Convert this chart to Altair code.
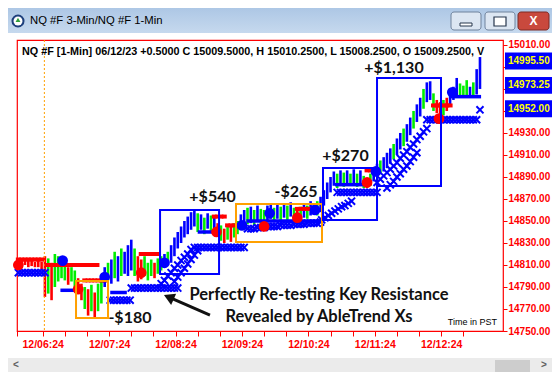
import altair as alt
import pandas as pd

# ---------------- data (minutes after 06:00 PST, prices) ----------------
T = list(range(2, 420, 3))
LO = [14806, 14807, 14810, 14808, 14809, 14808, 14808, 14806, 14781, 14784,
      14778, 14790, 14795, 14798, 14796, 14792, 14795, 14790, 14785, 14778,
      14770, 14764, 14768, 14762, 14768, 14775, 14790, 14796, 14793, 14798,
      14795, 14800, 14802, 14800, 14805, 14800, 14795, 14797, 14800, 14796,
      14800, 14798, 14802, 14805, 14808, 14810, 14812, 14818, 14825, 14830,
      14835, 14838, 14842, 14845, 14840, 14842, 14838, 14843, 14841, 14840,
      14836, 14832, 14830, 14833, 14831, 14835, 14838, 14842, 14845, 14847,
      14848, 14846, 14849, 14847, 14846, 14850, 14852, 14850, 14852, 14850,
      14853, 14851, 14854, 14850, 14849, 14851, 14853, 14852, 14855, 14856,
      14855, 14858, 14864, 14870, 14876, 14882, 14880, 14882, 14881, 14884,
      14882, 14884, 14881, 14883, 14880, 14880, 14882, 14886, 14890, 14893,
      14895, 14898, 14902, 14906, 14910, 14915, 14918, 14922, 14928, 14934,
      14940, 14945, 14952, 14958, 14960, 14950, 14948, 14944, 14946, 14950,
      14956, 14960, 14962, 14962, 14963, 14962, 14963, 14962, 14965, 14970]
HI = [14812, 14815, 14816, 14815, 14814, 14813, 14814, 14813, 14818, 14816,
      14812, 14820, 14818, 14816, 14812, 14808, 14808, 14805, 14798, 14793,
      14790, 14788, 14792, 14785, 14793, 14800, 14808, 14812, 14815, 14822,
      14818, 14825, 14822, 14828, 14833, 14825, 14818, 14815, 14818, 14812,
      14815, 14812, 14816, 14818, 14820, 14822, 14828, 14835, 14840, 14845,
      14850, 14854, 14858, 14860, 14857, 14856, 14853, 14857, 14855, 14854,
      14848, 14846, 14843, 14847, 14845, 14848, 14850, 14856, 14860, 14862,
      14863, 14860, 14864, 14861, 14860, 14864, 14866, 14862, 14866, 14863,
      14866, 14864, 14867, 14862, 14860, 14863, 14866, 14864, 14868, 14866,
      14868, 14872, 14878, 14885, 14890, 14895, 14893, 14896, 14894, 14896,
      14893, 14897, 14893, 14896, 14891, 14889, 14893, 14897, 14902, 14905,
      14908, 14912, 14916, 14920, 14925, 14930, 14934, 14938, 14944, 14950,
      14956, 14962, 14970, 14976, 14977, 14966, 14960, 14958, 14960, 14962,
      14970, 14972, 14980, 14975, 14973, 14978, 14972, 14976, 14988, 14999]
CLR = list("rrrrrrrrrg" "rggggrggrr" "grgrggbgbg" "bgbbbgrrgg" "grggbgbbbb"
           "bbbbgbgbgb" "rgrgrggbbg" "bgbggbbgbg" "bgbgrgbgbb" "gbbbbbgbgb"
           "gbgbgrgbbg" "bbbgbbgbbg" "bbgbbgrrgr" "bbbgggbgbb")

# blue X trailing-stop markers
X_T = ([2, 5, 8, 11, 14, 17, 20, 23, 26]
       + [85, 88, 91, 94, 97, 100, 103]
       + [104, 107, 110, 113, 116, 119, 122, 125, 128, 131, 134, 137, 140, 143, 146]
       + [131, 134, 137, 140, 143, 146, 149, 152, 155, 158]
       + [143, 146, 149, 152, 155, 158, 161, 164]
       + [161, 164, 167, 170, 173, 176, 179, 182, 185, 188, 191, 194, 197, 200, 203, 206]
       + [209, 212, 215, 218, 221, 224, 227, 230, 233, 236, 239, 242, 245, 248, 251,
          254, 257, 260, 263, 266, 269, 272, 275]
       + [276, 279, 282, 285, 288, 291, 294, 297, 300, 303]
       + [290, 293, 296, 299, 302, 305, 308, 311, 314, 317, 320, 323, 326]
       + [326, 329, 332, 335, 338, 341, 344, 347, 350, 353, 356, 359, 362, 365, 368, 371]
       + [335, 338, 341, 344, 347, 350, 353, 356, 359, 362]
       + [371, 374, 377, 380, 383, 386, 389, 392, 395, 398, 401, 404, 407, 410, 413, 416]
       + [419])
X_P = ([14803] * 9
       + [14778] * 7
       + [14789] * 15
       + [14793, 14796, 14800, 14803, 14807, 14810, 14814, 14817, 14820, 14824]
       + [14795, 14799, 14803, 14807, 14811, 14815, 14819, 14823]
       + [14826] * 16
       + [14843, 14843, 14843, 14844, 14844, 14844, 14845, 14845, 14845, 14845, 14846,
          14846, 14846, 14846, 14847, 14847, 14847, 14847, 14848, 14848, 14848, 14848, 14849]
       + [14851, 14853, 14855, 14857, 14859, 14861, 14863, 14864, 14866, 14868]
       + [14876] * 13
       + [14885, 14888, 14891, 14894, 14897, 14900, 14903, 14907, 14910, 14913,
          14917, 14920, 14924, 14927, 14931, 14934]
       + [14880, 14883, 14886, 14890, 14893, 14897, 14900, 14904, 14908, 14912]
       + [14942] * 16
       + [14951])

# red stop dashes
RD_T = ([2, 5, 8, 11, 14, 17, 20, 23]
        + [28, 31, 34, 37, 40, 43, 46, 49, 52, 55, 58, 61, 64, 67, 70, 73]
        + [62, 65, 68, 71, 74, 77, 80]
        + [113, 116, 119, 122, 125, 128]
        + [179, 182, 185, 188] + [191, 194, 197, 200]
        + [254, 257, 260, 263, 266]
        + [317, 320, 323, 326]
        + [377, 380, 383, 386, 389, 392])
RD_P = ([14815] * 8 + [14810] * 16 + [14796] * 7 + [14820] * 6
        + [14854] * 4 + [14846] * 4 + [14861] * 5 + [14896] * 4 + [14955] * 6)

# blue stop lines
LN_T1 = [40, 85, 164, 208, 288, 392]
LN_T2 = [53, 100, 183, 276, 315, 420]
LN_P = [14787, 14785, 14840, 14850, 14883, 14963]

# signal dots
RDOT_T = [2, 56, 113, 181, 224, 254, 317, 382]
RDOT_P = [14810, 14788, 14803, 14840, 14845, 14853, 14885, 14943]
BDOT_T = [42, 80, 134, 204, 229, 270, 325, 394]
BDOT_P = [14814, 14799, 14812, 14846, 14857, 14860, 14895, 14967]

# trade boxes
BOX_KIND = ["o", "b", "o", "b", "b"]
BOX_T1 = [54.1, 130.0, 198.6, 277.2, 326.0]
BOX_T2 = [83.0, 183.3, 276.3, 326.0, 383.8]
BOX_LO = [14761.8, 14801.8, 14830.9, 14850.9, 14881.8]
BOX_HI = [14795.5, 14860.0, 14865.5, 14898.2, 14980.0]

PL_TEXT = ["-$180", "+$540", "-$265", "+$270", "+$1,130"]
PL_T = [102.8, 177.4, 252.8, 297.5, 341.3]
PL_P = [14761.8, 14871.8, 14876.4, 14909.1, 14989.1]

NOTE_TEXT = ["Perfectly Re-testing Key Resistance", "Revealed by AbleTrend Xs"]
NOTE_T = [273.6, 273.6]
NOTE_P = [14782.7, 14762.3]

ARROW_T = [175.1]
ARROW_T2 = [137.9]
ARROW_P = [14764.5]
ARROW_P2 = [14780.7]

HL_P = [14995.5, 14973.25, 14952.0]
HL_TEXT = ["14995.50", "14973.25", "14952.00"]
HIDDEN_TICK_LABELS = [14990, 14970, 14950]

OPEN_T = [25.5]
PRICE_TICKS = list(range(14750, 15011, 20))
TIME_TICKS = [0.78] + list(range(24, 405, 20))

HEADER = ("NQ #F [1-Min] 06/12/23  +0.5000 C 15009.5000, H 15010.2500, "
          "L 15008.2500, O 15009.2500, V")

# ---------------- scales / axes ----------------
RED, GREEN, BLUE, ORANGE = "#ff0000", "#00ee00", "#0000ff", "#ffa000"
xs = alt.Scale(domain=[0.78, 439.8], nice=False, zero=False)
ys = alt.Scale(domain=[14750, 15014.5], nice=False, zero=False)
AX = alt.Axis(
    values=TIME_TICKS, title=None, grid=False, domain=False,
    tickColor=RED, tickSize=5, tickWidth=1,
    labelExpr="datum.value % 60 == 24 ? '12/' + (floor(datum.value/60) + 6 < 10 ? '0' : '') + (floor(datum.value/60) + 6) + ':24' : ''",
    labelColor=RED, labelFont="Liberation Sans", labelFontWeight="bold",
    labelFontSize=10.5, labelPadding=3, labelFlush=False, labelOverlap=False)
hidden = ",".join(str(v) for v in HIDDEN_TICK_LABELS)
AY = alt.Axis(
    orient="right", values=PRICE_TICKS, title=None, grid=False,
    labelExpr=f"indexof([{hidden}], datum.value) >= 0 ? '' : format(datum.value, '.2f')",
    domain=False, tickColor=RED, tickSize=4, tickWidth=1,
    labelColor=RED, labelFont="Liberation Sans", labelFontWeight="bold",
    labelFontSize=10, labelPadding=1, labelFlush=False, labelOverlap=False)


def X(f):
    return alt.X(f, scale=xs, axis=AX)


def Y(f):
    return alt.Y(f, scale=ys, axis=AY)


XSHAPE = "M-1,-1L1,1M-1,1L1,-1"
dummy = pd.DataFrame({"d": [0]})


def px_rect(x, x2, y, y2, **kw):
    return alt.Chart(dummy).mark_rect(**kw).encode(
        x=alt.value(x), x2=alt.value(x2), y=alt.value(y), y2=alt.value(y2))


def px_text(x, y, txt, **kw):
    return alt.Chart(dummy).mark_text(**kw).encode(
        x=alt.value(x), y=alt.value(y), text=alt.value(txt))


def px_point(x, y, **kw):
    return alt.Chart(dummy).mark_point(**kw).encode(x=alt.value(x), y=alt.value(y))


# ---------------- window chrome ----------------
grad = alt.LinearGradient(gradient="linear",
                          stops=[alt.GradientStop(color="#adc7e5", offset=0),
                                 alt.GradientStop(color="#c6d9ee", offset=1)],
                          x1=0, x2=0, y1=0, y2=1)
chrome = [
    px_rect(-9, 535, -32, -7, fill=grad),
    px_point(1, -19, shape="circle", filled=True, size=170, color="#1d3f7c", opacity=1),
    px_point(1, -19, shape="circle", filled=True, size=80, color="#ffffff", opacity=1),
    px_point(1, -19.5, shape="triangle", filled=True, size=24, color="#2f9e3a", opacity=1),
    px_text(13, -19, "NQ #F 3-Min/NQ #F 1-Min", align="left", baseline="middle",
            font="Liberation Sans", fontSize=11.3, color="#000000"),
    px_rect(434, 464, -28, -10, fill="#dce6f2", stroke="#6f829c", strokeWidth=1, cornerRadius=3),
    px_rect(443, 455, -17, -14, fill="#ffffff", stroke="#27364d", strokeWidth=1),
    px_rect(468, 498, -28, -10, fill="#dce6f2", stroke="#6f829c", strokeWidth=1, cornerRadius=3),
    px_rect(477, 489, -23, -14, fill="#ffffff", stroke="#27364d", strokeWidth=1.2),
    px_rect(501, 532, -28, -10, fill="#c9493d", stroke="#7e2b24", strokeWidth=1, cornerRadius=3),
    px_text(516.5, -19, "X", align="center", baseline="middle", font="Liberation Sans",
            fontWeight="bold", fontSize=12, color="#ffffff"),
    px_rect(-9, 535, 318, 332, fill="#ebebeb"),
    px_rect(478, 513, 320, 332, fill="#cdcdcd"),
    px_text(-1, 325, "<", align="center", baseline="middle", font="Liberation Sans",
            fontWeight="bold", fontSize=10, color="#606060"),
    px_text(527, 325, ">", align="center", baseline="middle", font="Liberation Sans",
            fontWeight="bold", fontSize=10, color="#606060"),
]

# ---------------- chart layers ----------------
bars_df = pd.DataFrame({"t": T, "lo": LO, "hi": HI, "c": CLR})
bars = alt.Chart(bars_df).mark_rule(strokeWidth=2.6).encode(
    x=X("t:Q"), y=Y("lo:Q"), y2="hi:Q",
    color=alt.Color("c:N", scale=alt.Scale(domain=["r", "g", "b"], range=[RED, GREEN, BLUE]),
                    legend=None),
)

open_line = alt.Chart(pd.DataFrame({"t": OPEN_T})).mark_rule(
    color=ORANGE, strokeWidth=1, strokeDash=[2, 2]).encode(x=X("t:Q"))

lines = alt.Chart(pd.DataFrame({"t1": LN_T1, "t2": LN_T2, "p": LN_P})).mark_rule(
    color=BLUE, strokeWidth=3.5).encode(x=X("t1:Q"), x2="t2:Q", y=Y("p:Q"))

xmarks = alt.Chart(pd.DataFrame({"t": X_T, "p": X_P})).mark_point(
    shape=XSHAPE, filled=False, strokeWidth=2, size=50, color=BLUE, opacity=1).encode(
    x=X("t:Q"), y=Y("p:Q"))

dashes = alt.Chart(pd.DataFrame({"t": RD_T, "p": RD_P})).mark_point(
    shape="M-1,0L1,0", filled=False, strokeWidth=4, size=25, color=RED, opacity=1).encode(
    x=X("t:Q"), y=Y("p:Q"))

rdots = alt.Chart(pd.DataFrame({"t": RDOT_T, "p": RDOT_P})).mark_circle(
    size=115, color=RED, opacity=1).encode(x=X("t:Q"), y=Y("p:Q"))
bdots = alt.Chart(pd.DataFrame({"t": BDOT_T, "p": BDOT_P})).mark_circle(
    size=115, color=BLUE, opacity=1).encode(x=X("t:Q"), y=Y("p:Q"))

box_df = pd.DataFrame({"k": BOX_KIND, "t1": BOX_T1, "t2": BOX_T2, "lo": BOX_LO, "hi": BOX_HI})
boxes_o = alt.Chart(box_df).transform_filter("datum.k == 'o'").mark_rect(
    fillOpacity=0, stroke=ORANGE, strokeWidth=2).encode(
    x=X("t1:Q"), x2="t2:Q", y=Y("lo:Q"), y2="hi:Q")
boxes_b = alt.Chart(box_df).transform_filter("datum.k == 'b'").mark_rect(
    fillOpacity=0, stroke=BLUE, strokeWidth=2).encode(
    x=X("t1:Q"), x2="t2:Q", y=Y("lo:Q"), y2="hi:Q")

pl_text = alt.Chart(pd.DataFrame({"t": PL_T, "p": PL_P, "s": PL_TEXT})).mark_text(
    font="Lato", fontWeight="bold", fontSize=16, color="#111111",
    align="center", baseline="middle").encode(x=X("t:Q"), y=Y("p:Q"), text="s:N")

notes = alt.Chart(pd.DataFrame({"t": NOTE_T, "p": NOTE_P, "s": NOTE_TEXT})).mark_text(
    font="Lato", fontWeight="bold", fontSize=16.5, color="#111111",
    align="center", baseline="middle").encode(x=X("t:Q"), y=Y("p:Q"), text="s:N")

arrow_df = pd.DataFrame({"t": ARROW_T, "t2": ARROW_T2, "p": ARROW_P, "p2": ARROW_P2})
arrow_line = alt.Chart(arrow_df).mark_rule(color="#111111", strokeWidth=3).encode(
    x=X("t:Q"), x2="t2:Q", y=Y("p:Q"), y2="p2:Q")
arrow_head = alt.Chart(arrow_df).mark_point(
    shape="triangle-up", filled=True, size=150, angle=294, color="#111111", opacity=1).encode(
    x=X("t2:Q"), y=Y("p2:Q"))

hl_df = pd.DataFrame({"p": HL_P, "s": HL_TEXT})
hl_box = alt.Chart(hl_df).transform_calculate(
    top="datum.p + 7.7", bot="datum.p - 7.7").mark_rect(color=BLUE).encode(
    x=alt.value(488), x2=alt.value(537), y=Y("top:Q"), y2="bot:Q")
hl_text = alt.Chart(hl_df).mark_text(
    font="Liberation Sans", fontWeight="bold", fontSize=10, color="#ffff00",
    align="left", baseline="middle").encode(x=alt.value(491), y=Y("p:Q"), text="s:N")

header = px_text(5, 11.5, HEADER, align="left", baseline="middle",
                 font="Liberation Sans", fontWeight="bold", fontSize=10.8, color="#000000")
time_note = px_text(480, 282, "Time in PST", align="right", baseline="middle",
                    font="Liberation Sans", fontSize=9, color="#000000")

chart = alt.layer(
    bars, open_line, lines, xmarks, dashes, rdots, bdots,
    boxes_o, boxes_b, pl_text, notes, arrow_line, arrow_head,
    hl_box, hl_text, header, time_note, *chrome,
).properties(
    width=486, height=291,
    autosize=alt.AutoSizeParams(type="none"),
    padding={"left": 9, "top": 32, "right": 49, "bottom": 41},
    background="white",
).configure_view(stroke=RED, strokeWidth=1.2)

chart.save("out.html", embed_options={"renderer": "svg", "actions": False})
